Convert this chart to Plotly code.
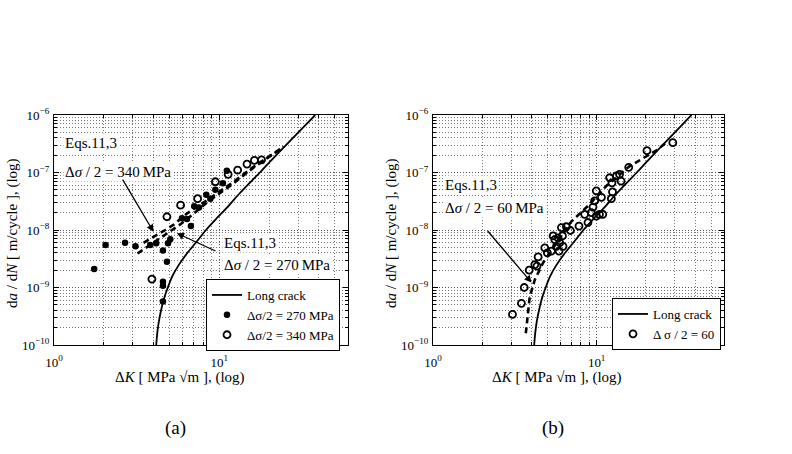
import math
import plotly.graph_objects as go

# ---------------- data ----------------
# Long-crack curve (same material, both panels)
lc_dk = [4.15, 4.21, 4.3, 4.44, 4.62, 4.88, 5.2, 5.7, 6.4, 7.3, 8.3, 9.6, 11.2, 12.9,
         15.0, 17.6, 20.4, 23.8, 27.8, 32.5, 38.0]
lc_dadn = [1.0e-10, 1.58e-10, 2.5e-10, 3.98e-10, 6.3e-10, 1.0e-9, 1.58e-9, 2.5e-9, 3.98e-9,
           6.3e-9, 1.0e-8, 1.58e-8, 2.5e-8, 3.98e-8, 6.3e-8, 1.0e-7, 1.58e-7, 2.5e-7,
           3.98e-7, 6.3e-7, 1.0e-6]

# Panel (a): delta sigma/2 = 270 MPa (filled)
a270_dk = [1.75, 2.05, 2.69, 3.11, 3.82, 4.15, 4.56, 4.82, 4.56, 4.56, 4.56, 4.89, 5.05,
           5.94, 6.37, 6.73, 7.05, 7.53, 8.34, 8.82, 9.46, 10.5, 11.1]
a270_dadn = [2.1e-9, 5.5e-9, 6.0e-9, 5.2e-9, 5.5e-9, 5.9e-9, 4.4e-9, 2.8e-9, 1.26e-9, 1.07e-9,
             5.7e-10, 5.9e-9, 6.9e-9, 1.6e-8, 1.55e-8, 1.17e-8, 2.6e-8, 2.45e-8, 4.1e-8,
             3.5e-8, 5.0e-8, 6.5e-8, 1.07e-7]
# Panel (a): delta sigma/2 = 340 MPa (open)
a340_dk = [3.91, 4.82, 5.83, 7.39, 9.46, 11.3, 12.9, 14.7, 16.3, 18.0]
a340_dadn = [1.4e-9, 1.7e-8, 2.7e-8, 3.5e-8, 6.9e-8, 9.3e-8, 1.1e-7, 1.4e-7, 1.62e-7, 1.66e-7]

# Panel (a): Eqs. 11,3 model curves
eq270_dk = [3.2, 3.8, 4.4, 5.0, 5.8, 6.8, 8.4, 12.2, 16.0, 24.5]
eq270_dadn = [3.9e-9, 5.5e-9, 7.2e-9, 9.2e-9, 1.25e-8, 1.8e-8, 3.0e-8, 6.5e-8, 1.2e-7, 2.8e-7]
eq340_dk = [3.48, 4.19, 4.71, 5.34, 6.37, 8.42, 12.2, 16.1, 24.5]
eq340_dadn = [6.0e-9, 8.1e-9, 1.0e-8, 1.26e-8, 1.94e-8, 3.3e-8, 6.9e-8, 1.26e-7, 2.8e-7]

# Panel (b): delta sigma/2 = 60 MPa (open)
b60_dk = [3.06, 3.47, 3.61, 3.87, 4.19, 4.32, 4.39, 4.82, 5.0, 5.29, 5.42, 5.55, 5.68, 5.89,
          5.81, 5.95, 6.09, 6.18, 6.23, 6.53, 6.91, 7.80, 8.45, 8.85, 9.28, 9.72, 9.95, 10.4,
          9.95, 10.7, 12.4, 13.2, 12.5, 12.0, 13.8, 14.1, 12.3, 15.7, 20.3, 29.2, 9.5, 10.9]
b60_dadn = [3.4e-10, 5.3e-10, 1.0e-9, 2.0e-9, 2.5e-9, 2.35e-9, 3.4e-9, 4.9e-9, 4.0e-9, 4.3e-9,
            7.9e-9, 6.8e-9, 5.2e-9, 4.3e-9, 7.3e-9, 6.0e-9, 1.1e-8, 7.9e-9, 5.2e-9, 1.14e-8,
            9.8e-9, 1.17e-8, 1.87e-8, 1.35e-8, 2.0e-8, 3.2e-8, 1.74e-8, 1.87e-8, 4.8e-8,
            3.7e-8, 6.6e-8, 8.7e-8, 4.6e-8, 8.1e-8, 9.3e-8, 7.1e-8, 3.5e-8, 1.23e-7, 2.4e-7,
            3.3e-7, 2.5e-8, 1.87e-8]
# Panel (b): Eqs. 11,3 model curve
eq60_dk = [3.69, 3.9, 4.19, 4.71, 5.95, 7.0, 9.06, 11.5, 15.9, 23.1, 26.6]
eq60_dadn = [1.6e-10, 6.9e-10, 1.37e-9, 2.7e-9, 7.2e-9, 1.4e-8, 2.8e-8, 5.9e-8, 1.29e-7,
             2.4e-7, 3.3e-7]

x_tickvals = [1, 10]
x_ticktext = ["10<sup>0</sup>", "10<sup>1</sup>"]
y_tickvals = [1e-10, 1e-9, 1e-8, 1e-7, 1e-6]
y_ticktext = ["10<sup>\u221210</sup>", "10<sup>\u22129</sup>", "10<sup>\u22128</sup>",
              "10<sup>\u22127</sup>", "10<sup>\u22126</sup>"]
x_range = [1, 60]
y_range = [1e-10, 1e-6]

FONT = "Liberation Serif"
L = math.log10

fig = go.Figure()

LC_LINE = dict(color="black", width=1.8, shape="spline", smoothing=0.5)
EQ_LINE = dict(color="black", width=2.6, dash="6px,4px")
OPEN = dict(symbol="circle-open", size=7, color="black", line=dict(width=1.8, color="black"))

# ---- panel (a)
fig.add_trace(go.Scatter(x=lc_dk, y=lc_dadn, mode="lines", name="Long crack", line=LC_LINE,
                         xaxis="x", yaxis="y", legend="legend"))
fig.add_trace(go.Scatter(x=eq270_dk, y=eq270_dadn, mode="lines", showlegend=False,
                         line=EQ_LINE, xaxis="x", yaxis="y"))
fig.add_trace(go.Scatter(x=eq340_dk, y=eq340_dadn, mode="lines", showlegend=False,
                         line=EQ_LINE, xaxis="x", yaxis="y"))
fig.add_trace(go.Scatter(x=a270_dk, y=a270_dadn, mode="markers", name="\u0394\u03c3/2 = 270 MPa",
                         marker=dict(symbol="circle", size=6.5, color="black"),
                         xaxis="x", yaxis="y", legend="legend"))
fig.add_trace(go.Scatter(x=a340_dk, y=a340_dadn, mode="markers", name="\u0394\u03c3/2 = 340 MPa",
                         marker=OPEN, xaxis="x", yaxis="y", legend="legend"))

# ---- panel (b)
fig.add_trace(go.Scatter(x=lc_dk, y=lc_dadn, mode="lines", name="Long crack", line=LC_LINE,
                         xaxis="x2", yaxis="y2", legend="legend2"))
fig.add_trace(go.Scatter(x=eq60_dk, y=eq60_dadn, mode="lines", showlegend=False,
                         line=EQ_LINE, xaxis="x2", yaxis="y2"))
fig.add_trace(go.Scatter(x=b60_dk, y=b60_dadn, mode="markers", name="\u0394 \u03c3 / 2 = 60",
                         marker=OPEN, xaxis="x2", yaxis="y2", legend="legend2"))

GRID = dict(showgrid=True, gridcolor="#555", griddash="1px,2px", gridwidth=1)
MINOR = dict(dtick="D1", ticks="inside", ticklen=3, tickcolor="black",
             showgrid=True, gridcolor="#777", griddash="1px,2px", gridwidth=1)


def axis(domain, anchor, rng, tv, tt, standoff):
    return dict(type="log", range=[L(rng[0]), L(rng[1])], domain=domain, anchor=anchor,
                tickmode="array", tickvals=tv, ticktext=tt, automargin=False,
                showline=True, linecolor="black", linewidth=1.3, mirror="ticks",
                ticks="inside", ticklen=5, tickcolor="black", ticklabelstandoff=standoff,
                minor=MINOR, tickfont=dict(family=FONT, size=13, color="black"),
                zeroline=False, **GRID)


W, H = 792, 454
yd = [1 - 345 / H, 1 - 115 / H]
LEG_FONT = dict(family=FONT, size=13, color="black")
fig.update_layout(
    width=W, height=H, margin=dict(l=0, r=0, t=0, b=0, autoexpand=False),
    paper_bgcolor="white", plot_bgcolor="white",
    font=dict(family=FONT, color="black"),
    xaxis=axis([54 / W, 348 / W], "y", x_range, x_tickvals, x_ticktext, 5),
    yaxis=axis(yd, "x", y_range, y_tickvals, y_ticktext, 1),
    xaxis2=axis([433 / W, 724 / W], "y2", x_range, x_tickvals, x_ticktext, 5),
    yaxis2=axis(yd, "x2", y_range, y_tickvals, y_ticktext, 1),
    legend=dict(x=206 / W, y=1 - 279 / H, xanchor="left", yanchor="top",
                bgcolor="white", bordercolor="black", borderwidth=1,
                font=LEG_FONT, tracegroupgap=0, itemwidth=30),
    legend2=dict(x=612 / W, y=1 - 298 / H, xanchor="left", yanchor="top",
                 bgcolor="white", bordercolor="black", borderwidth=1,
                 font=LEG_FONT, tracegroupgap=0, itemwidth=30),
    showlegend=True,
)

ann = []
tf = dict(family=FONT, size=15, color="black")


def text(x, y, s, anchor="left"):
    ann.append(dict(x=x / W, y=1 - y / H, xref="paper", yref="paper", text=s, showarrow=False,
                    xanchor=anchor, yanchor="middle", font=tf, bgcolor="white"))


def arrow(x0, y0, x1, y1, xr="x", yr="y"):
    ann.append(dict(x=L(x1), y=L(y1), ax=L(x0), ay=L(y0), xref=xr, yref=yr, axref=xr, ayref=yr,
                    text="", showarrow=True, arrowhead=2, arrowsize=1.1, arrowwidth=1.3,
                    arrowcolor="black"))


# panel (a) labels
text(63, 143, "Eqs.11,3")
text(63, 172, "\u0394<i>\u03c3</i> / 2 = 340\u2009MPa")
text(222, 243, "Eqs.11,3")
text(222, 265, "\u0394<i>\u03c3</i> / 2 = 270\u2009MPa")
arrow(2.57, 8.0e-8, 4.0, 9.3e-9)
arrow(9.68, 4.2e-9, 5.54, 8.8e-9)
# panel (b) labels
text(443, 185, "Eqs.11,3")
text(443, 208, "\u0394<i>\u03c3</i> / 2 = 60\u2009MPa")
arrow(2.12, 1.02e-8, 4.0, 1.22e-9, "x2", "y2")

# axis titles
atf = dict(family=FONT, size=15, color="black")
for xc in (180, 557):
    ann.append(dict(x=xc / W, y=1 - 377 / H, xref="paper", yref="paper", showarrow=False,
                    text="\u0394<i>K</i> [ MPa \u221am ], (log)", font=atf,
                    xanchor="center", yanchor="middle"))
for xc in (12, 391):
    ann.append(dict(x=xc / W, y=1 - 233 / H, xref="paper", yref="paper", showarrow=False,
                    text="d<i>a</i> / d<i>N</i> [ m/cycle ], (log)", font=atf, textangle=-90,
                    xanchor="center", yanchor="middle"))
# panel letters
for xc, s in ((175, "(a)"), (553, "(b)")):
    ann.append(dict(x=xc / W, y=1 - 428 / H, xref="paper", yref="paper", showarrow=False,
                    text=s, font=dict(family=FONT, size=19, color="black"),
                    xanchor="center", yanchor="middle"))

fig.update_layout(annotations=ann)
fig.write_html("out.html")
